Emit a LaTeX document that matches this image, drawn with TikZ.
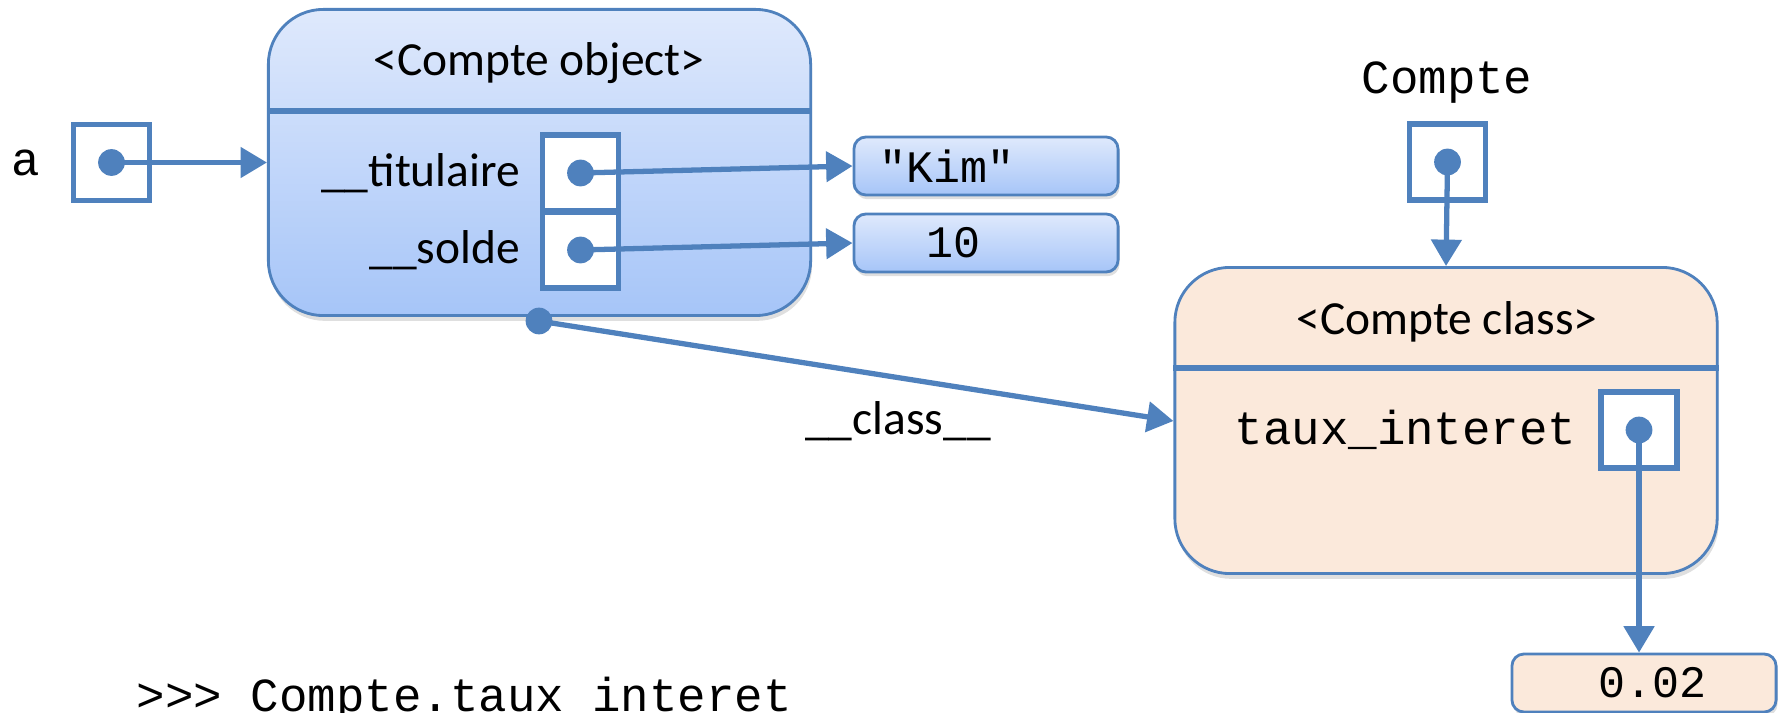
\documentclass[tikz,border=0pt]{standalone}
\usepackage{fontspec}
\setmainfont{Carlito}
\setmonofont{Liberation Mono}
\usetikzlibrary{arrows.meta,positioning,shadows}
\definecolor{linkblue}{HTML}{4F81BD}
\definecolor{objtop}{HTML}{DFE9FC}
\definecolor{objbot}{HTML}{A6C5F8}
\definecolor{clsfill}{HTML}{FBE9DB}
\tikzset{
  lbl/.style={font=\fontsize{13.5}{16}\selectfont, inner sep=0pt},
  code/.style={font=\fontsize{13.5}{16}\selectfont\ttfamily, inner sep=0pt},
  val/.style={font=\fontsize{12.8}{15}\selectfont\ttfamily, inner sep=0pt},
  ptr/.style={draw=linkblue, line width=1.6pt, fill=white, minimum size=0.76cm, inner sep=0pt},
  frame/.style={draw=linkblue, line width=0.8pt, rounded corners=0.55cm, minimum width=5.42cm, minimum height=3.06cm,
    drop shadow={opacity=0.25, shadow xshift=0.4pt, shadow yshift=-1.5pt}},
  objframe/.style={frame, top color=objtop, bottom color=objbot},
  clsframe/.style={frame, fill=clsfill},
  cell/.style={draw=linkblue, line width=0.8pt, rounded corners=0.12cm, minimum width=2.64cm, minimum height=0.58cm,
    drop shadow={opacity=0.25, shadow xshift=0.4pt, shadow yshift=-1.2pt}},
  objcell/.style={cell, top color=objtop, bottom color=objbot},
  clscell/.style={cell, fill=clsfill},
  link/.style={draw=linkblue, line width=1.5pt, -{Triangle[length=7.5pt,width=8.5pt]}},
  sep/.style={draw=linkblue, line width=1.6pt},
  dot/.style={fill=linkblue}
}
\begin{document}
\begin{tikzpicture}[x=0.01cm, y=-0.01cm]
\useasboundingbox (0,0) rectangle (1783,713);

\node[objframe] (obj) at (539.5,162.5) {};
\draw[sep] (obj.west |- 0,111) -- (obj.east |- 0,111);
\node[lbl] (objtitle) at (539,63) {<Compte object>};

\node[clsframe] (cls) at (1446,420.5) {};
\draw[sep] (cls.west |- 0,368) -- (cls.east |- 0,368);
\node[lbl] (clstitle) at (1447,322) {<Compte class>};

\node[code] (avar) at (26,163) {a};
\node[ptr] (pa) at (111.5,162.5) {};

\node[ptr] (ptit) at (580.5,173) {};
\node[ptr] (psol) at (580.5,250) {};
\node[lbl, left=0.19cm of ptit] (tit) {\_\_titulaire};
\node[lbl, left=0.19cm of psol] (sol) {\_\_solde};

\node[objcell] (kim) at (986,166) {};
\node[val] (kimtxt) at (947,166) {"Kim"};
\node[objcell] (ten) at (986,243) {};
\node[val] (tentxt) at (953,243) {10};

\node[code] (cvar) at (1447,83) {Compte};
\node[ptr] (pcls) at (1447.5,162) {};

\node[ptr] (ptaux) at (1639,430) {};
\node[code, left=0.21cm of ptaux] (taux) {taux\_interet};

\node[clscell] (rate) at (1644,683) {};
\node[val] (ratetxt) at (1652,683) {0.02};

\coordinate (clsstart) at (539,321);
\node[lbl] (clslbl) at (898,421) {\_\_class\_\_};

\draw[link] (pa.center) -- (obj.west);
\draw[link] (ptit.center) -- (kim.west);
\draw[link] (psol.center) -- (ten.west);
\draw[link] (clsstart) -- (cls.west |- 0,421);
\draw[link] (pcls.center) -- (cls.north);
\draw[link] (ptaux.center) -- (ptaux.center |- rate.north);

\foreach \p in {pa,ptit,psol,pcls,ptaux}
  \fill[dot] (\p.center) circle (3.8pt);
\fill[dot] (clsstart) circle (3.8pt);

\node[code, anchor=base west] (prompt) at (136,711) {>>> Compte.taux\_interet};
\end{tikzpicture}
\end{document}
